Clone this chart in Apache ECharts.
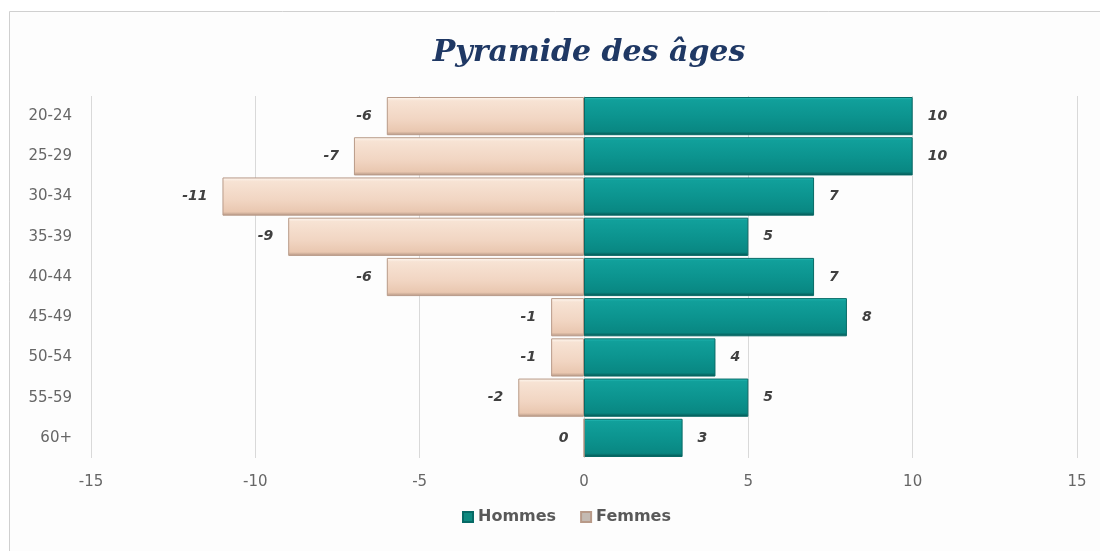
<!DOCTYPE html>
<html>
<head>
<meta charset="utf-8">
<script src="https://cdn.jsdelivr.net/npm/echarts@6/dist/echarts.min.js"></script>
<style>
html,body{margin:0;padding:0;background:#fff;}
#c{width:1100px;height:551px;}
</style>
</head>
<body>
<div id="c"></div>
<script>
const categories = ['20-24','25-29','30-34','35-39','40-44','45-49','50-54','55-59','60+'];
const hommes = [10, 10, 7, 5, 7, 8, 4, 5, 3];
const femmes = [-6, -7, -11, -9, -6, -1, -1, -2, 0];
const titleText = 'Pyramide des âges';

const chart = echarts.init(document.getElementById('c'), null, {renderer:'canvas'});

const labelStyle = {
  show: true,
  fontFamily: 'DejaVu Sans',
  fontStyle: 'italic',
  fontWeight: 'bold',
  fontSize: 14,
  color: '#404040',
  distance: 15
};

chart.setOption({
  backgroundColor: '#ffffff',
  graphic: [{
    type: 'rect',
    left: 9, top: 11,
    shape: {width: 1100, height: 560},
    style: {fill: '#fdfdfd', stroke: '#d0d0d0', lineWidth: 1},
    z: -10, silent: true
  }],
  title: {
    text: titleText,
    left: 584, top: 33, textAlign: 'center',
    textStyle: {
      fontFamily: 'DejaVu Serif',
      fontStyle: 'italic',
      fontWeight: 'bold',
      fontSize: 30,
      color: '#1f3864'
    }
  },
  legend: {
    bottom: 21,
    left: 457,
    itemWidth: 10, itemHeight: 10, itemGap: 24,
    icon: 'rect',
    textStyle: {fontFamily: 'DejaVu Sans', fontWeight: 'bold', fontSize: 16, color: '#595959'},
    data: [
      {name: 'Hommes', itemStyle: {color: '#0e8a80'}},
      {name: 'Femmes', itemStyle: {color: '#c4bab2'}}
    ]
  },
  grid: {left: 91, right: 23, top: 96, bottom: 93, containLabel: false},
  xAxis: {
    type: 'value', min: -15, max: 15, interval: 5,
    axisLine: {show: false}, axisTick: {show: false},
    splitLine: {show: true, lineStyle: {color: '#d9d9d9', width: 1}},
    axisLabel: {margin: 17, fontFamily: 'DejaVu Sans', fontSize: 15, color: '#666666'}
  },
  yAxis: {
    type: 'category', data: categories, inverse: true,
    axisLine: {show: false}, axisTick: {show: false},
    axisLabel: {margin: 19, fontFamily: 'DejaVu Sans', fontSize: 15, color: '#666666'}
  },
  series: [
    {
      name: 'Hommes', type: 'bar', data: hommes,
      barGap: '-100%', barCategoryGap: '5%',
      itemStyle: {
        color: {type: 'linear', x: 0, y: 0, x2: 0, y2: 1, colorStops: [
          {offset: 0, color: '#2fc6c1'},
          {offset: 0.07, color: '#11a09b'},
          {offset: 0.5, color: '#0c948f'},
          {offset: 0.9, color: '#098782'},
          {offset: 1, color: '#055350'}
        ]},
        borderColor: '#076a66', borderWidth: 1
      },
      label: Object.assign({}, labelStyle, {position: 'right'})
    },
    {
      name: 'Femmes', type: 'bar', data: femmes,
      itemStyle: {
        color: {type: 'linear', x: 0, y: 0, x2: 0, y2: 1, colorStops: [
          {offset: 0, color: '#fffaf4'},
          {offset: 0.1, color: '#f7e3d4'},
          {offset: 0.6, color: '#f1d5c2'},
          {offset: 0.9, color: '#e9c7b0'},
          {offset: 1, color: '#b29482'}
        ]},
        borderColor: '#b89a88', borderWidth: 1
      },
      label: Object.assign({}, labelStyle, {position: 'left'})
    }
  ]
});
</script>
</body>
</html>
